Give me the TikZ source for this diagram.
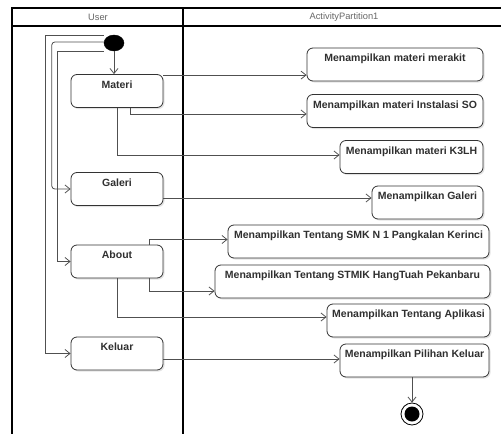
\documentclass[tikz,border=0pt]{standalone}
\usepackage{fontspec}
\setmainfont{Liberation Sans}
\usetikzlibrary{arrows.meta,shadows,calc,shapes.geometric}
\definecolor{linec}{HTML}{505050}
\definecolor{boxc}{HTML}{333333}
\definecolor{txtc}{HTML}{303030}
\tikzset{
  actbox/.style={draw=boxc, line width=0.8pt, rounded corners=6pt, fill=white,
    drop shadow={shadow xshift=1.5pt, shadow yshift=-1.5pt, fill=black!18, opacity=0.6},
    minimum height=33pt, inner sep=0pt},
  acttxt/.style={font=\bfseries\fontsize{10.5}{12}\selectfont, text=txtc, anchor=north, inner sep=0pt},
  flow/.style={draw=linec, line width=0.8pt, -{Straight Barb[length=5pt,width=8pt,line width=0.8pt]}},
  pool/.style={draw=black, line width=1.1pt},
  hdr/.style={font=\fontsize{9.3}{10}\selectfont, text=black!60, inner sep=0pt}
}
\begin{document}
\begin{tikzpicture}[x=1pt,y=-1pt]
\useasboundingbox (0,0) rectangle (501,434);
% pool
\draw[pool] (501,8) -- (12,8) -- (12,434);
\draw[pool] (12,26) -- (501,26);
\draw[pool] (183,8) -- (183,434);
\node[hdr] (hUser) at (98,17.5) {User};
\node[hdr] (hPart) at (344,17.5) {ActivityPartition1};
% initial
\node[draw=black, fill=black, ellipse, minimum width=20pt, minimum height=16pt, inner sep=0pt] (init) at (114,43) {};
% user boxes
\node[actbox, minimum width=92pt] (materi) at (117,91) {};
\node[acttxt] (tmateri) at ([yshift=-6.5pt]materi.north) {Materi};
\node[actbox, minimum width=92pt] (galeri) at (117,189) {};
\node[acttxt] (tgaleri) at ([yshift=-6.5pt]galeri.north) {Galeri};
\node[actbox, minimum width=92pt] (about) at (117,261.5) {};
\node[acttxt] (tabout) at ([yshift=-6.5pt]about.north) {About};
\node[actbox, minimum width=92pt] (keluar) at (117,353.5) {};
\node[acttxt] (tkeluar) at ([yshift=-6.5pt]keluar.north) {Keluar};
% partition boxes
\node[actbox, minimum width=176pt] (merakit) at (395,64.5) {};
\node[acttxt] (tmerakit) at ([yshift=-6.5pt]merakit.north) {Menampilkan materi merakit};
\node[actbox, minimum width=176pt] (instalasi) at (395,111) {};
\node[acttxt] (tinstalasi) at ([yshift=-6.5pt]instalasi.north) {Menampilkan materi Instalasi SO};
\node[actbox, minimum width=143pt] (k3lh) at (411.5,157) {};
\node[acttxt] (tk3lh) at ([yshift=-6.5pt]k3lh.north) {Menampilkan materi K3LH};
\node[actbox, minimum width=111pt] (galeri2) at (427.5,202.5) {};
\node[acttxt] (tgaleri2) at ([yshift=-6.5pt]galeri2.north) {Menampilkan Galeri};
\node[actbox, minimum width=261pt] (smk) at (358.5,241.5) {};
\node[acttxt] (tsmk) at ([yshift=-6.5pt]smk.north) {Menampilkan Tentang SMK N 1 Pangkalan Kerinci};
\node[actbox, minimum width=275pt] (stmik) at (352.5,281.5) {};
\node[acttxt] (tstmik) at ([yshift=-6.5pt]stmik.north) {Menampilkan Tentang STMIK HangTuah Pekanbaru};
\node[actbox, minimum width=163pt] (aplikasi) at (408.5,320.5) {};
\node[acttxt] (taplikasi) at ([yshift=-6.5pt]aplikasi.north) {Menampilkan Tentang Aplikasi};
\node[actbox, minimum width=149pt] (pilihan) at (414.5,360.5) {};
\node[acttxt] (tpilihan) at ([yshift=-6.5pt]pilihan.north) {Menampilkan Pilihan Keluar};
% final
\node[draw=black, line width=0.8pt, circle, minimum size=22pt, inner sep=0pt, fill=white] (final) at (412,414) {};
\node[fill=black, circle, minimum size=15pt, inner sep=0pt] (finalin) at (final.center) {};
% flows from initial
\draw[flow] (init) -- (init |- materi.north);
\draw[flow] ([yshift=8pt]init.west) -- ++(-58,0) |- (keluar.west);
\draw[flow, rounded corners=3pt] ([yshift=1pt]init.west) -- ++(-52,0) |- (galeri.west);
\draw[flow] ([yshift=-8pt]init.west) -- ++(-46,0) |- (about.west);
% materi
\draw[flow] ([yshift=-1pt]materi.north east) -- ([yshift=-1pt]materi.north east -| merakit.west);
\draw[flow] ([xshift=13pt]materi.south) |- ([yshift=-3pt]instalasi.west);
\draw[flow] (materi.south) |- ([yshift=2pt]k3lh.west);
% galeri
\draw[flow] ([yshift=-9pt]galeri.east) -- ([yshift=-9pt]galeri.east -| galeri2.west);
% about
\draw[flow] ([xshift=32pt]about.north) |- ([yshift=2pt]smk.west);
\draw[flow] ([xshift=32pt]about.south) |- ([yshift=-9.5pt]stmik.west);
\draw[flow] (about.south) |- ([yshift=3.5pt]aplikasi.west);
% keluar
\draw[flow] ([yshift=-5.5pt]keluar.east) -- ([yshift=-5.5pt]keluar.east -| pilihan.west);
\draw[flow] (pilihan.south -| final) -- (final.north);
\end{tikzpicture}
\end{document}
